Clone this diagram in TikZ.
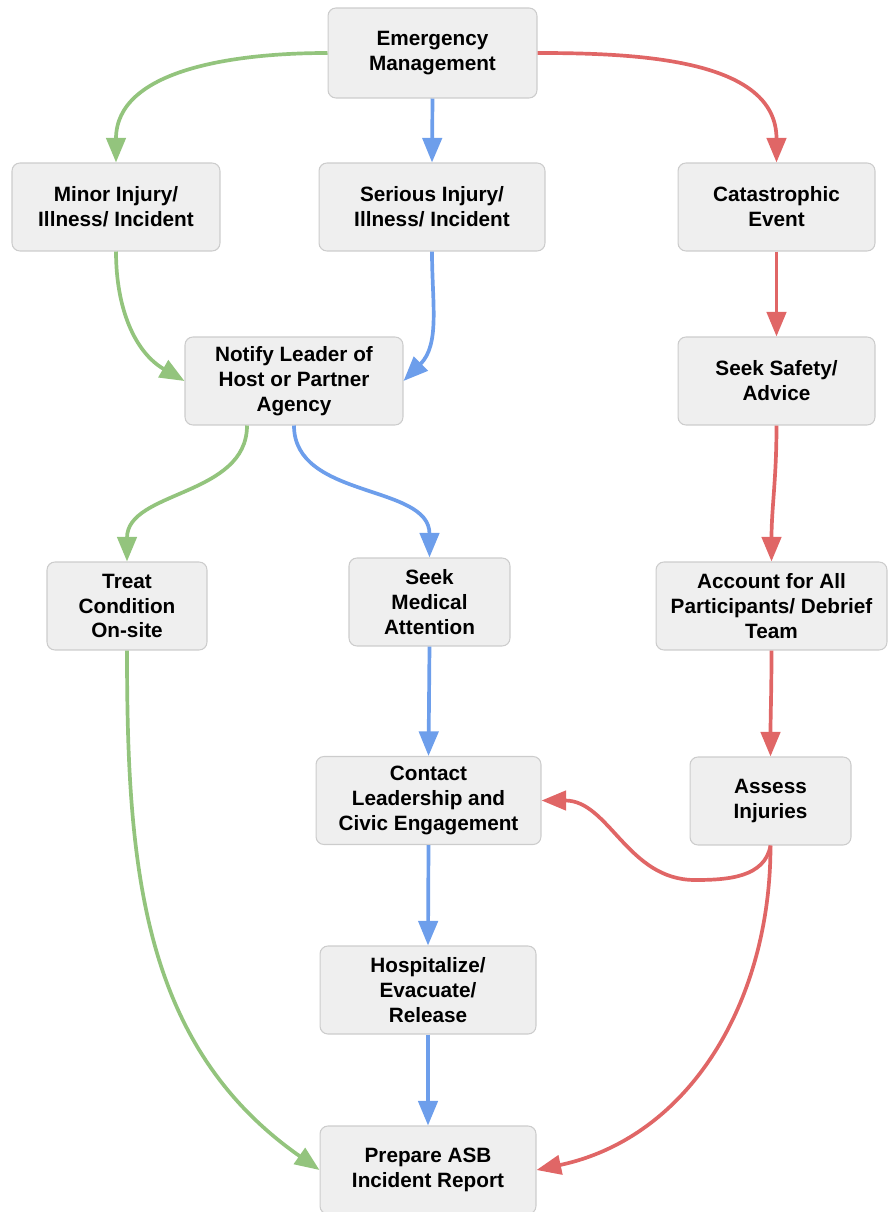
\documentclass[tikz,border=0pt]{standalone}
\usepackage{fontspec}
\setmainfont{Liberation Sans}
\usepackage{xcolor}
\usepackage{tikz}
\usetikzlibrary{arrows.meta,calc}
\definecolor{boxfill}{HTML}{EFEFEF}
\definecolor{boxline}{HTML}{CCCCCC}
\definecolor{mgreen}{HTML}{93C47D}
\definecolor{mblue}{HTML}{6D9EEB}
\definecolor{mred}{HTML}{E06666}
\tikzset{
	stepbox/.style={draw=boxline,fill=boxfill,line width=0.6pt,rounded corners=4.5pt,
		align=center,inner sep=2pt,minimum height=1.76cm,
		font=\fontsize{11.8}{14.2}\selectfont\bfseries},
	flow/.style={line width=2.1pt,-{Triangle[length=14pt,width=11pt]}},
	minorflow/.style={flow,mgreen},
	seriousflow/.style={flow,mblue},
	catflow/.style={flow,mred}
}
\begin{document}
\begin{tikzpicture}[x=0.02cm,y=0.02cm]
		\useasboundingbox (0,0) rectangle (887,-1212);
		\node[stepbox,minimum width=4.18cm,minimum height=1.8cm] (em) at (432.5,-53) {Emergency\\Management};
		\node[stepbox,minimum width=4.16cm] (minor) at (116,-207) {Minor Injury/\\Illness/ Incident};
		\node[stepbox,minimum width=4.52cm] (serious) at (432,-207) {Serious Injury/\\Illness/ Incident};
		\node[stepbox,minimum width=3.94cm] (cata) at (776.5,-207) {Catastrophic\\Event};
		\node[stepbox,minimum width=4.36cm] (notify) at (294,-381) {Notify Leader of\\Host or Partner\\Agency};
		\node[stepbox,minimum width=3.94cm] (safety) at (776.5,-381) {Seek Safety/\\Advice};
		\node[stepbox,minimum width=3.2cm] (treat) at (127,-606) {Treat\\Condition\\On-site};
		\node[stepbox,minimum width=3.22cm] (seekmed) at (429.5,-602) {Seek\\Medical\\Attention};
		\node[stepbox,minimum width=4.62cm] (account) at (771.5,-606) {Account for All\\Participants/ Debrief\\Team};
		\node[stepbox,minimum width=4.5cm] (contact) at (428.5,-800.5) {Contact\\Leadership and\\Civic Engagement};
		\node[stepbox,minimum width=3.22cm] (assess) at (770.5,-801) {Assess\\Injuries};
		\node[stepbox,minimum width=4.32cm] (hosp) at (428,-990) {Hospitalize/\\Evacuate/\\Release};
		\node[stepbox,minimum width=4.32cm] (prepare) at (428,-1170) {Prepare ASB\\Incident Report};
		\coordinate (dip) at (695,-880);
		% minor branch
		\draw[minorflow] (em.west) to[out=180,in=90] (minor.north);
		\draw[minorflow] (minor.south) to[out=-90,in=150] (notify.west);
		\draw[minorflow] ([xshift=-0.94cm]notify.south) to[out=-90,in=90] (treat.north);
		\draw[minorflow] (treat.south) to[out=-90,in=145] (prepare.west);
		% serious branch
		\draw[seriousflow] (em.south) -- (serious.north);
		\draw[seriousflow] (serious.south) to[out=-90,in=45] (notify.east);
		\draw[seriousflow] (notify.south) to[out=-90,in=90] (seekmed.north);
		\draw[seriousflow] (seekmed.south) -- (contact.north);
		\draw[seriousflow] (contact.south) -- (hosp.north);
		\draw[seriousflow] (hosp.south) -- (prepare.north);
		% catastrophic branch
		\draw[catflow] (em.east) to[out=0,in=90] (cata.north);
		\draw[catflow] (cata.south) -- (safety.north);
		\draw[catflow] (safety.south) to[out=-90,in=90] (account.north);
		\draw[catflow] (account.south) to[out=-90,in=90] (assess.north);
		\draw[catflow] (assess.south) to[out=-100,in=0] (dip) to[out=180,in=0] (contact.east);
		\draw[catflow] (assess.south) to[out=-90,in=12] (prepare.east);
	\end{tikzpicture}
\end{document}
